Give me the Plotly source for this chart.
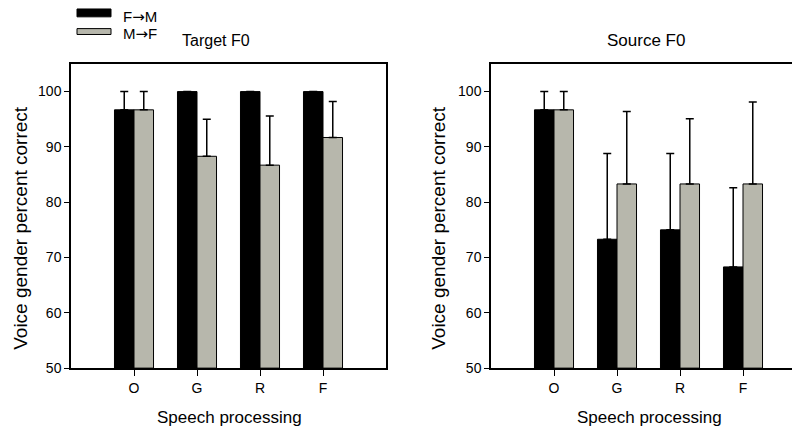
import plotly.graph_objects as go

categories = ["O", "G", "R", "F"]
series_names = ["F→M", "M→F"]

target_fm = [96.7, 100, 100, 100]
target_fm_err = [3.3, None, None, None]
target_mf = [96.7, 88.3, 86.7, 91.7]
target_mf_err = [3.3, 6.7, 8.9, 6.5]

source_fm = [96.7, 73.3, 75.0, 68.3]
source_fm_err = [3.3, 15.5, 13.8, 14.3]
source_mf = [96.7, 83.3, 83.3, 83.3]
source_mf_err = [3.3, 13.1, 11.8, 14.8]

y_ticks = [50, 60, 70, 80, 90, 100]
panel_titles = ["Target F0", "Source F0"]
x_title = "Speech processing"
y_title = "Voice gender percent correct"

W, H = 800, 427
FONT = "Liberation Sans, Arial, sans-serif"
BLACK = "#000000"
GRAY = "#b7b7ac"


def px(x):
    return x / W


def py(y):
    return (H - y) / H


fig = go.Figure()


def add_bars(vals, errs, color, name, xa, ya):
    zeros = [0 if e is not None else None for e in errs]
    fig.add_trace(go.Bar(
        x=categories, y=[v - 50 for v in vals], base=50,
        name=name, marker=dict(color=color, line=dict(color="black", width=1)),
        error_y=dict(type="data", symmetric=False, array=errs, arrayminus=zeros,
                     color="black", thickness=1.5, width=4),
        xaxis=xa, yaxis=ya, showlegend=False,
        hovertext=[str(v) for v in vals],
    ))


add_bars(target_fm, target_fm_err, BLACK, series_names[0], "x", "y")
add_bars(target_mf, target_mf_err, GRAY, series_names[1], "x", "y")
add_bars(source_fm, source_fm_err, BLACK, series_names[0], "x2", "y2")
add_bars(source_mf, source_mf_err, GRAY, series_names[1], "x2", "y2")

xcommon = dict(type="category", categoryorder="array", categoryarray=categories,
               range=[-1, 4], showline=True, linecolor="black", linewidth=1.5,
               mirror=True, ticks="outside", ticklen=6, tickwidth=1.2,
               tickcolor="black", showgrid=False, zeroline=False,
               tickfont=dict(family=FONT, size=14, color="black"))
ycommon = dict(range=[50, 105], tickvals=y_ticks, showline=True, linecolor="black",
               linewidth=1.5, mirror=True, ticks="outside", ticklen=5, tickwidth=1.2,
               tickcolor="black", showgrid=False, zeroline=False,
               tickfont=dict(family=FONT, size=14, color="black"))

ydom = [py(367), py(57)]
fig.update_layout(
    width=W, height=H,
    margin=dict(l=0, r=0, t=0, b=0),
    paper_bgcolor="white", plot_bgcolor="white",
    barmode="group", bargap=0.38, bargroupgap=0,
    xaxis=dict(domain=[px(63), px(378)], anchor="y", **xcommon),
    yaxis=dict(domain=ydom, anchor="x", **ycommon),
    xaxis2=dict(domain=[px(483), px(798)], anchor="y2", **xcommon),
    yaxis2=dict(domain=ydom, anchor="x2", **ycommon),
    font=dict(family=FONT, color="black"),
)


def legend_label(s):
    a, b = s.split("→")
    return a + "<span style='font-family:DejaVu Sans'>→</span>" + b


ann = []
# panel titles
ann.append(dict(text=panel_titles[0], x=px(208), y=py(33), xref="paper", yref="paper",
                showarrow=False, font=dict(size=16), xanchor="center", yanchor="middle"))
ann.append(dict(text=panel_titles[1], x=px(638), y=py(33), xref="paper", yref="paper",
                showarrow=False, font=dict(size=17), xanchor="center", yanchor="middle"))
# x titles
for cx in (221, 641):
    ann.append(dict(text=x_title, x=px(cx), y=py(417), xref="paper", yref="paper",
                    showarrow=False, font=dict(size=17), xanchor="center", yanchor="middle"))
# y titles
for cx in (13, 431):
    ann.append(dict(text=y_title, x=px(cx), y=py(224), xref="paper", yref="paper",
                    showarrow=False, textangle=-90, font=dict(size=19),
                    xanchor="center", yanchor="middle"))
# legend labels
ann.append(dict(text=legend_label(series_names[0]), x=px(113), y=py(9), xref="paper",
                yref="paper", showarrow=False, font=dict(size=15),
                xanchor="left", yanchor="middle"))
ann.append(dict(text=legend_label(series_names[1]), x=px(113), y=py(27), xref="paper",
                yref="paper", showarrow=False, font=dict(size=15),
                xanchor="left", yanchor="middle"))

shapes = [
    dict(type="rect", xref="paper", yref="paper", x0=px(69), x1=px(103), y0=py(9), y1=py(1),
         fillcolor=BLACK, line=dict(color="black", width=1)),
    dict(type="rect", xref="paper", yref="paper", x0=px(69), x1=px(103), y0=py(27), y1=py(21),
         fillcolor=GRAY, line=dict(color="black", width=1)),
]
fig.update_layout(annotations=ann, shapes=shapes)

fig.write_html("out.html")
